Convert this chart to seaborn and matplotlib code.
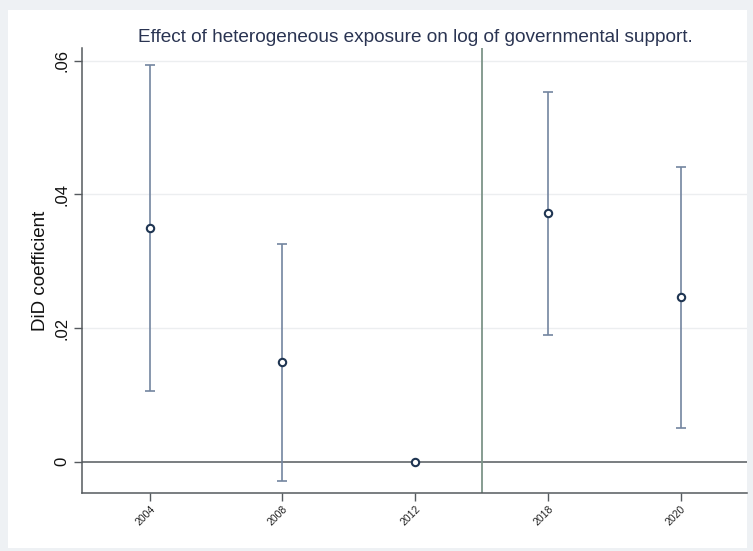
import numpy as np
import pandas as pd
import matplotlib
matplotlib.use("Agg")
import matplotlib.pyplot as plt
from matplotlib.patches import Rectangle
import seaborn as sns

# Event-study estimates (DiD coefficient with 95% CI), 2012 is the reference year
years = ["2004", "2008", "2012", "2018", "2020"]
coef = [0.0349, 0.0149, 0.0, 0.0372, 0.0247]
ci_low = [0.0106, -0.0029, 0.0, 0.0190, 0.0051]
ci_high = [0.0594, 0.0325, 0.0, 0.0553, 0.0441]
y_ticks = [0, 0.02, 0.04, 0.06]
y_tick_labels = ["0", ".02", ".04", ".06"]

df = pd.DataFrame({"year": years, "coef": coef, "lo": ci_low, "hi": ci_high})
df["pos"] = np.arange(len(df))

sns.set_theme(style="white")
plt.rcParams["font.family"] = ["Liberation Sans", "DejaVu Sans"]

fig = plt.figure(figsize=(7.53, 5.51), dpi=100, facecolor="#eef1f4")
# inner white graph region
fig.add_artist(Rectangle((8 / 753, 1 - 548 / 551), (747 - 8) / 753, (548 - 10) / 551,
                         transform=fig.transFigure, facecolor="white",
                         edgecolor="none", zorder=-10))

ax = fig.add_axes([82 / 753, 1 - 493 / 551, (747 - 82) / 753, (493 - 48) / 551])
ax.set_zorder(1)
ax.set_facecolor("white")

# light horizontal grid
for t in y_ticks[1:]:
    ax.axhline(t, color="#eceef0", lw=1.0, zorder=0)

# reference lines
ax.axhline(0, color="#555a5e", lw=1.1, zorder=1)
ax.axvline(2.5, color="#7d9488", lw=1.3, zorder=1)

# confidence intervals
has_ci = df["hi"] != df["lo"]
sub = df[has_ci]
ax.errorbar(sub["pos"], sub["coef"],
            yerr=[sub["coef"] - sub["lo"], sub["hi"] - sub["coef"]],
            fmt="none", ecolor="#7385a0", elinewidth=1.2, capsize=3.6,
            capthick=1.2, zorder=2)

# point estimates
sns.scatterplot(data=df, x="pos", y="coef", ax=ax, marker="o", s=28,
                facecolor="white", edgecolor="#1f3552", linewidth=1.5,
                zorder=3, legend=False)

ax.set_xlim(-0.51, 4.5)
ax.set_ylim(-0.0047, 0.0619)
ax.set_xticks(df["pos"])
ax.set_xticklabels(years, rotation=45, ha="right", rotation_mode="anchor",
                   fontsize=7.5, color="#222222")
ax.set_yticks(y_ticks)
ax.set_yticklabels(y_tick_labels, rotation=90, va="center", fontsize=12,
                   color="#111111")
ax.tick_params(axis="both", which="both", direction="out", length=6,
               width=1.0, color="#555a5e", pad=3, bottom=True, left=True)
ax.tick_params(axis="x", pad=2)

for side in ["top", "right"]:
    ax.spines[side].set_visible(False)
for side in ["left", "bottom"]:
    ax.spines[side].set_color("#555a5e")
    ax.spines[side].set_linewidth(1.1)

ax.set_xlabel("")
ax.set_ylabel("DiD coefficient", fontsize=13.5, color="#111111", labelpad=4)

fig.text(415 / 753, 1 - 42 / 551,
         "Effect of heterogeneous exposure on log of governmental support.",
         ha="center", va="baseline", fontsize=13.7, color="#2a3452")

fig.savefig("out.png", dpi=100, facecolor=fig.get_facecolor())
